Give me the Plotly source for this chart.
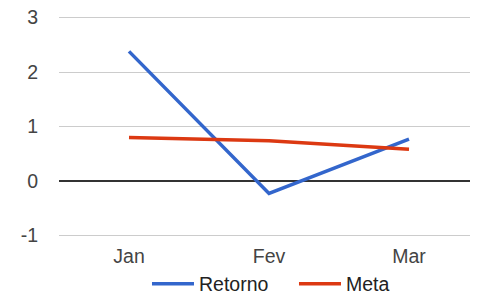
import plotly.graph_objects as go

months = ["Jan", "Fev", "Mar"]
retorno = [2.38, -0.23, 0.77]
meta = [0.80, 0.74, 0.58]
y_ticks = [-1, 0, 1, 2, 3]
y_labels = ["-1", "0", "1", "2", "3"]

fig = go.Figure()
fig.add_trace(go.Scatter(x=months, y=retorno, name="Retorno", mode="lines",
                         line=dict(color="#3366cc", width=3.5)))
fig.add_trace(go.Scatter(x=months, y=meta, name="Meta", mode="lines",
                         line=dict(color="#dc3912", width=3.5)))

# the page body has an 8px margin, so the layout is shifted up/left by 8px
fig.update_layout(
    width=478, height=293,
    margin=dict(l=51, r=7, t=8, b=64, autoexpand=False),
    paper_bgcolor="white", plot_bgcolor="white",
    font=dict(family="Arial, Liberation Sans, sans-serif", size=19.5, color="#444444"),
    showlegend=True,
    legend=dict(orientation="h", x=0.2095, xanchor="left", xref="paper",
                yref="container", y=0.058, yanchor="middle",
                bgcolor="rgba(0,0,0,0)",
                font=dict(size=19.5, color="#222222"), itemwidth=42, entrywidth=90),
    xaxis=dict(showgrid=False, showline=False, zeroline=False, ticks="",
               range=[-0.5, 2.5], ticklabelstandoff=5),
    yaxis=dict(range=[-1.03, 3.03], tickvals=y_ticks, ticktext=y_labels, showgrid=True,
               gridcolor="#cccccc", gridwidth=1.3, zeroline=True, zerolinecolor="#333333",
               zerolinewidth=1.5, showline=False, ticks="", ticklabelstandoff=20,
               ticklabeloverflow="allow"),
)

fig.write_html("out.html")
